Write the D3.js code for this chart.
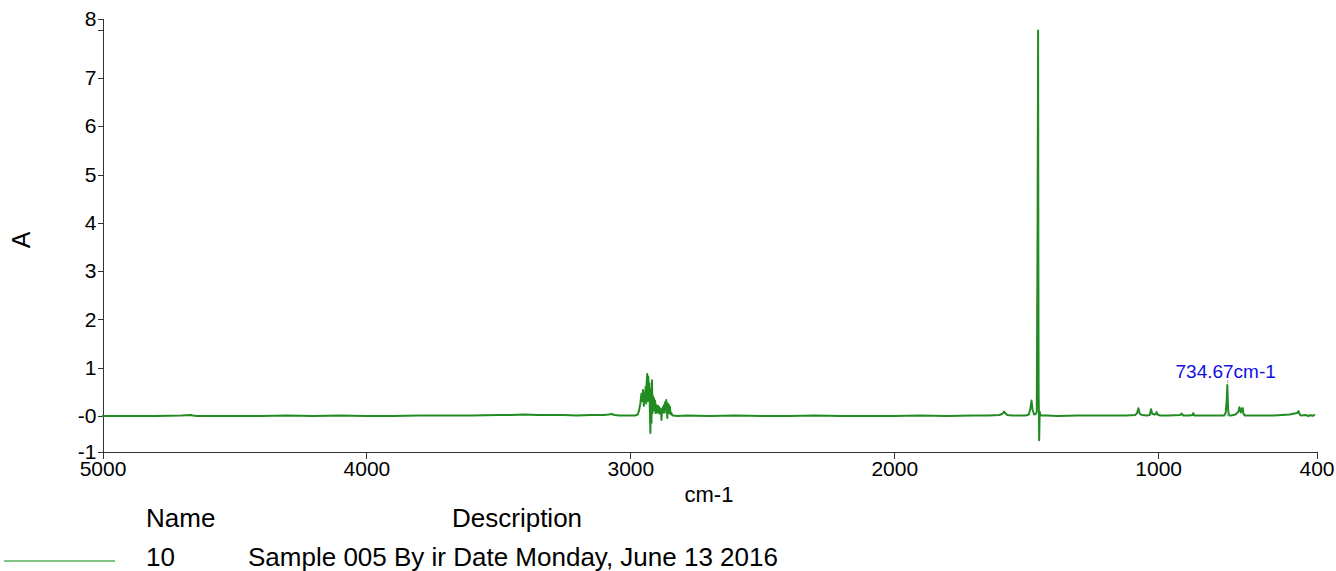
<html>
<head>
  <style>
    body { margin: 0; background: white; font-family: Arial, "Liberation Sans", sans-serif; }
    svg { display: block; }
    .axis text { font-family: Arial, "Liberation Sans", sans-serif; font-size: 21px; fill: #000; }
    .axis path, .axis line { stroke: #333; stroke-width: 1; shape-rendering: crispEdges; }
  </style>
  <script src="https://d3js.org/d3.v7.min.js"></script>
</head>
<body>
  <svg id="Spectrum"></svg>
</body>
<script>
  // spectrum (wavenumber cm-1, absorbance)
  let wavenumbers = [
    5000, 4900, 4800, 4700, 4662, 4655, 4640, 4500, 4400, 4300, 4200, 4100, 4000, 3900, 3800, 3700,
    3600, 3500, 3450, 3400, 3350, 3300, 3250, 3200, 3150, 3100, 3080, 3069, 3058, 3040, 3000, 2980,
    2970, 2965, 2960, 2956, 2953, 2950, 2947, 2944, 2942, 2940, 2938, 2936, 2934, 2932, 2930, 2928,
    2926, 2924, 2922, 2920, 2918, 2916, 2914, 2912, 2910, 2908, 2906, 2904, 2902, 2900, 2898, 2896,
    2894, 2892, 2890, 2888, 2886, 2884, 2882, 2880, 2878, 2876, 2874, 2872, 2870, 2868, 2866, 2864,
    2862, 2860, 2858, 2856, 2854, 2852, 2850, 2848, 2846, 2843, 2840, 2836, 2820, 2780, 2700, 2600,
    2500, 2400, 2300, 2200, 2100, 2000, 1900, 1800, 1700, 1640, 1600, 1590, 1585, 1582, 1578, 1570,
    1550, 1500, 1488, 1482, 1478, 1474, 1468, 1462, 1458, 1455, 1453, 1452, 1451, 1450, 1449, 1447,
    1445, 1440, 1420, 1380, 1300, 1200, 1120, 1085, 1078, 1073, 1068, 1060, 1040, 1030, 1025, 1021,
    1012, 1006, 1004, 1001, 990, 960, 915, 909, 903, 880, 868, 865, 861, 820, 780, 748, 742,
    738, 736, 734.67, 733, 731, 727, 722, 705, 694, 690, 688, 685, 681, 678, 675, 672, 668, 660,
    620, 560, 500, 472, 466, 463, 460, 454, 440, 428, 420, 414, 408, 404, 400
  ];
  let absorbance = [
    -0.01, -0.01, -0.01, 0.00, 0.01, 0.00, -0.01, -0.01, -0.01, 0.00, -0.01, 0.00, -0.01, -0.01, 0.00, 0.00,
    0.00, 0.01, 0.01, 0.02, 0.01, 0.01, 0.01, 0.00, 0.01, 0.01, 0.02, 0.03, 0.01, 0.00, 0.00, 0.00,
    0.02, 0.10, 0.25, 0.45, 0.30, 0.53, 0.20, 0.48, 0.32, 0.60, 0.25, 0.70, 0.86, 0.30, 0.80, 0.45,
    0.67, 0.10, -0.36, 0.55, -0.15, 0.73, 0.05, 0.40, 0.20, 0.35, 0.10, 0.30, 0.05, 0.22, 0.16, 0.06,
    0.20, 0.10, 0.18, 0.04, 0.15, 0.08, 0.12, -0.09, 0.14, 0.05, 0.18, 0.10, 0.22, 0.06, 0.28, 0.12,
    0.32, 0.15, -0.05, 0.25, 0.08, 0.22, 0.05, 0.18, 0.03, 0.06, 0.01, 0.00, -0.01, 0.00, -0.01, 0.00,
    -0.01, -0.01, 0.00, -0.01, -0.01, -0.01, 0.00, -0.01, 0.00, 0.00, 0.01, 0.03, 0.06, 0.08, 0.05, 0.01,
    0.00, 0.00, 0.02, 0.15, 0.31, 0.12, 0.02, 0.03, 0.08, 3.90, 7.97, 3.20, 0.40, 0.10, -0.51, 0.08,
    0.02, 0.00, 0.00, -0.01, 0.00, 0.00, 0.00, 0.01, 0.05, 0.15, 0.04, 0.01, 0.00, 0.01, 0.13, 0.04,
    0.02, 0.03, 0.07, 0.02, 0.00, 0.00, 0.01, 0.04, 0.00, 0.00, 0.01, 0.05, 0.00, 0.00, 0.00, 0.00,
    0.06, 0.35, 0.63, 0.40, 0.12, 0.03, 0.00, 0.00, 0.02, 0.08, 0.17, 0.12, 0.06, 0.14, 0.155, 0.04, 0.01, 0.00,
    0.00, 0.00, 0.00, 0.02, 0.05, 0.09, 0.04, 0.01, 0.00, 0.01, -0.01, 0.01, -0.01, 0.01, 0.00
  ];

  let xTicks = [5000, 4000, 3000, 2000, 1000, 400];
  let yTicks = [-0.735, 0, 1, 2, 3, 4, 5, 6, 7, 8, 8.23];
  let yTickLabels = ["-1", "-0", "1", "2", "3", "4", "5", "6", "7", "", "8"];

  let peakLabel = { wn: 734.67, value: 0.63, text: "734.67cm-1" };
  let legendName = "10";
  let legendDescription = "Sample 005 By ir Date Monday, June 13 2016";

  function getConfig() {
    let width = 1336;
    let height = 571;
    let plot = { left: 102, right: 1316, top: 18, bottom: 451 };
    let container = d3.select("#Spectrum")
      .attr("width", width)
      .attr("height", height);
    return { width, height, plot, container };
  }

  function getScales(config) {
    let { plot } = config;
    let xScale = d3.scaleLinear()
      .domain([5000, 400])
      .range([plot.left, plot.right]);
    let yScale = d3.scaleLinear()
      .domain([yTicks[0], yTicks[yTicks.length - 1]])
      .range([plot.bottom, plot.top]);
    return { xScale, yScale };
  }

  function drawAxes(scales, config) {
    let { xScale, yScale } = scales;
    let { container, plot } = config;

    let axisX = d3.axisBottom(xScale)
      .tickValues(xTicks)
      .tickFormat(d3.format("d"))
      .tickSize(7)
      .tickPadding(3)
      .tickSizeOuter(0);
    container.append("g")
      .attr("class", "axis")
      .attr("transform", `translate(0.5,${plot.bottom + 0.5})`)
      .call(axisX);

    let axisY = d3.axisLeft(yScale)
      .tickValues(yTicks)
      .tickFormat((d, i) => yTickLabels[i])
      .tickSize(5)
      .tickPadding(1)
      .tickSizeOuter(0);
    container.append("g")
      .attr("class", "axis")
      .attr("transform", `translate(${plot.left + 0.5},0.5)`)
      .call(axisY);

    // axis titles
    container.append("text")
      .attr("transform", `translate(30,240) rotate(-90)`)
      .attr("text-anchor", "middle")
      .style("font-size", "25px")
      .text("A");

    container.append("text")
      .attr("x", (plot.left + plot.right) / 2)
      .attr("y", 502)
      .attr("text-anchor", "middle")
      .style("font-size", "22px")
      .text("cm-1");
  }

  function drawSpectrum(scales, config) {
    let { xScale, yScale } = scales;
    let { container } = config;
    let points = wavenumbers.map((wn, i) => [wn, absorbance[i]]);

    let line = d3.line()
      .x(d => xScale(d[0]))
      .y(d => yScale(d[1]));

    container.append("path")
      .datum(points)
      .attr("d", line)
      .attr("fill", "none")
      .attr("stroke", "#228b22")
      .attr("stroke-width", 2)
      .attr("stroke-linejoin", "round");

    // peak pick marker and label
    let px = xScale(peakLabel.wn);
    container.append("line")
      .attr("x1", xScale(peakLabel.wn + 5)).attr("x2", xScale(peakLabel.wn - 5))
      .attr("y1", yScale(0)).attr("y2", yScale(0))
      .attr("stroke", "#8fa8e8").attr("stroke-width", 1.5);
    container.append("line")
      .attr("x1", px).attr("x2", px)
      .attr("y1", yScale(peakLabel.value) - 5).attr("y2", yScale(peakLabel.value) - 2)
      .attr("stroke", "#aaa").attr("stroke-width", 1);
    container.append("text")
      .attr("x", px - 2)
      .attr("y", yScale(peakLabel.value) - 7)
      .attr("text-anchor", "middle")
      .attr("fill", "#1010e6")
      .style("font-size", "19px")
      .text(peakLabel.text);
  }

  function drawLegend(config) {
    let { container } = config;
    container.append("line")
      .attr("x1", 4).attr("x2", 115)
      .attr("y1", 561).attr("y2", 561)
      .attr("stroke", "#82c482")
      .attr("stroke-width", 2);

    let legendFont = "26px";
    container.append("text").attr("x", 146).attr("y", 527).style("font-size", legendFont).text("Name");
    container.append("text").attr("x", 452).attr("y", 527).style("font-size", legendFont).text("Description");
    container.append("text").attr("x", 146).attr("y", 566).style("font-size", legendFont).text(legendName);
    container.append("text").attr("x", 248).attr("y", 566).style("font-size", legendFont).text(legendDescription);
  }

  function drawChart() {
    let config = getConfig();
    let scales = getScales(config);
    drawAxes(scales, config);
    drawSpectrum(scales, config);
    drawLegend(config);
  }

  drawChart();
</script>
</html>
